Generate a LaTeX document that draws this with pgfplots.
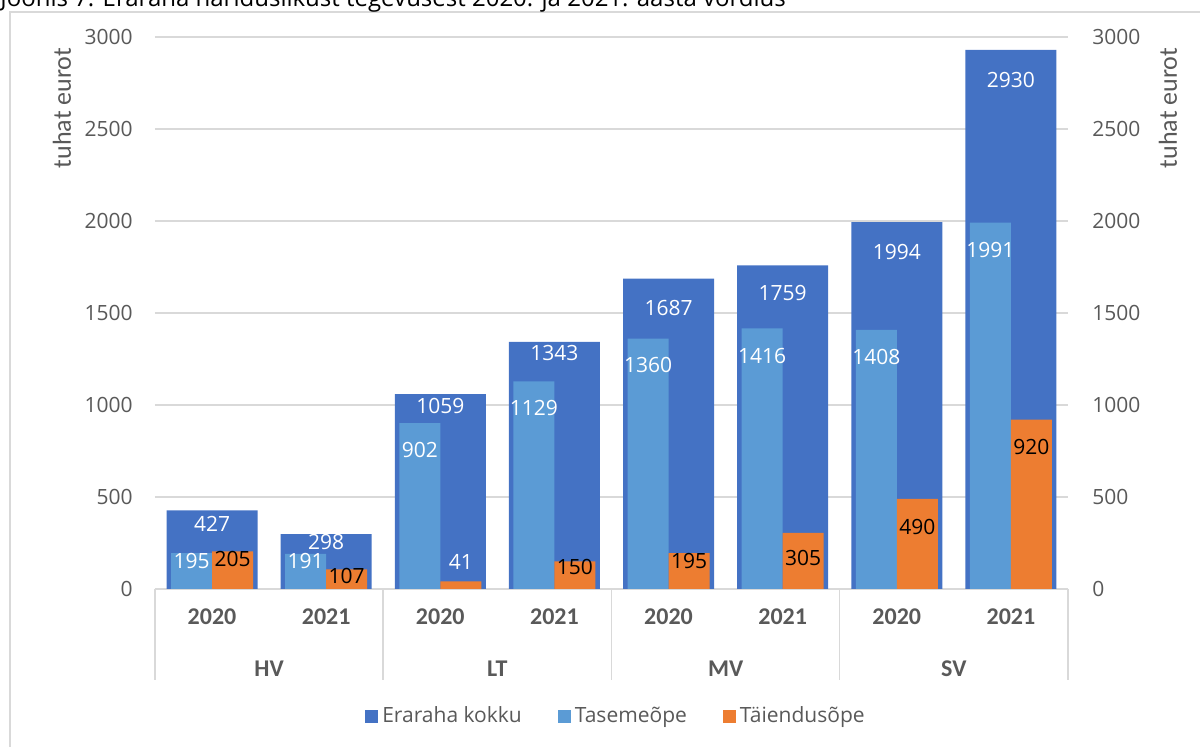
\documentclass[border=0pt]{standalone}
\usepackage{pgfplots}
\pgfplotsset{compat=1.18}
\usepackage{pgfplotstable}
\usepackage{fontspec}
\setmainfont{Open Sans}
\newfontfamily\calfont{Carlito}
\definecolor{ckokku}{HTML}{4472C4}
\definecolor{ctase}{HTML}{5B9BD5}
\definecolor{ctaie}{HTML}{ED7D31}
\definecolor{cgrid}{HTML}{D9D9D9}
\definecolor{ctext}{HTML}{595959}

% lc: 100 = white label, 0 = black label
\pgfplotstableread{
x y dy lc
0 427 -6.5 100
1 298 -4 100
2 1059 -6 100
3 1343 -5.5 100
4 1687 -14.5 100
5 1759 -14 100
6 1994 -15 100
7 2930 -15 100
}\kokkutab

\pgfplotstableread{
x y dy lc
0 195 -4 100
1 191 -3.5 100
2 902 -13.5 100
3 1129 -13.5 100
4 1360 -13 100
5 1416 -14 100
6 1408 -13.5 100
7 1991 -13.5 100
}\tasetab

\pgfplotstableread{
x y dy lc
0 205 -4 0
1 107 -3.5 0
2 41 9.75 100
3 150 -3 0
4 195 -4 0
5 305 -12.5 0
6 490 -14 0
7 920 -13.5 0
}\taietab

\tikzset{grplab/.style={font=\calfont\bfseries\fontsize{12}{14}\selectfont, text=ctext, anchor=center, yshift=-40pt}}

\pgfplotsset{
  common/.style={
    width=456.5pt, height=276pt, scale only axis,
    at={(77.5pt,79pt)}, anchor=south west,
    xmin=-0.5, xmax=7.5, ymin=0, ymax=3000,
    ytick={0,500,...,3000},
    axis line style={draw=none}, major tick length=0pt,
    /pgf/number format/assume math mode=true,
    /pgf/number format/1000 sep={},
    clip=false,
  },
  lab/.style={
    nodes near coords, point meta=explicit symbolic,
    visualization depends on={\thisrow{dy} \as \dy},
    visualization depends on={\thisrow{lc} \as \lc},
    every node near coord/.append style={anchor=center, yshift=\dy, xshift=#1,
      text=white!\lc!black, font=\fontsize{10.5}{12}\selectfont, inner sep=0pt},
  },
  lab/.default=0pt,
}

\begin{document}
\begin{tikzpicture}[x=1pt,y=1pt]
\draw[cgrid, line width=0.75pt] (5,-20) rectangle (620,367.5);
\node[anchor=base west, inner sep=0pt, font=\fontsize{12}{14}\selectfont] at (0,370)
  {Joonis 7. Eraraha hariduslikust tegevusest 2020. ja 2021. aasta võrdlus};

\begin{axis}[common,
  ymajorgrids, grid style={cgrid, line width=0.75pt},
  ytick pos=left, xtick pos=bottom,
  xtick={0,...,7},
  xticklabels={2020,2021,2020,2021,2020,2021,2020,2021},
  xticklabel style={font=\calfont\bfseries\fontsize{12}{14}\selectfont, text=ctext,
    anchor=center, yshift=-14pt},
  yticklabel style={font=\fontsize{10.5}{12}\selectfont, text=ctext, anchor=east,
    inner sep=0pt, xshift=-11pt},
  ylabel={tuhat eurot},
  ylabel style={font=\calfont\fontsize{13}{15}\selectfont, text=ctext,
    at={(axis description cs:-0.1019,0.8714)}, anchor=center},
]
\addplot[ybar, bar width=45.5pt, bar shift=0pt, fill=ckokku, draw=none, lab]
  table[x=x, y=y, meta=y] {\kokkutab};
\pgfplotsinvokeforeach{-0.5,1.5,3.5,5.5,7.5}{
  \draw[cgrid, line width=0.75pt] (axis cs:#1,0) -- ++(0pt,-45.5pt);
}
\node[grplab] at (axis cs:0.5,0) {HV};
\node[grplab] at (axis cs:2.5,0) {LT};
\node[grplab] at (axis cs:4.5,0) {MV};
\node[grplab] at (axis cs:6.5,0) {SV};
\end{axis}

\begin{axis}[common,
  xtick=\empty,
  ytick pos=right, yticklabel pos=right,
  yticklabel style={font=\fontsize{10.5}{12}\selectfont, text=ctext, anchor=west,
    inner sep=0pt, xshift=12pt},
  ylabel={tuhat eurot},
  ylabel style={font=\calfont\fontsize{13}{15}\selectfont, text=ctext,
    at={(axis description cs:1.1095,0.8714)}, anchor=center},
  legend columns=3,
  legend image code/.code={\fill[#1,draw=none] (0pt,-3.25pt) rectangle (6.5pt,3.25pt);},
  legend style={draw=none, fill=none, at={(0.506,-0.2301)}, anchor=center,
    font=\fontsize{10.5}{12}\selectfont, text=ctext,
    /tikz/every even column/.append style={column sep=16pt}},
]
\addlegendimage{fill=ckokku}
\addlegendentry{Eraraha kokku}
\addplot[ybar, bar width=20.5pt, bar shift=-10.25pt, fill=ctase, draw=none, lab=-10.25pt]
  table[x=x, y=y, meta=y] {\tasetab};
\addlegendentry{Tasemeõpe}
\addplot[ybar, bar width=20.5pt, bar shift=10.25pt, fill=ctaie, draw=none, lab=10.25pt]
  table[x=x, y=y, meta=y] {\taietab};
\addlegendentry{Täiendusõpe}
\end{axis}
\pgfresetboundingbox
\useasboundingbox (0,0) rectangle (600,373.5);
\end{tikzpicture}
\end{document}
